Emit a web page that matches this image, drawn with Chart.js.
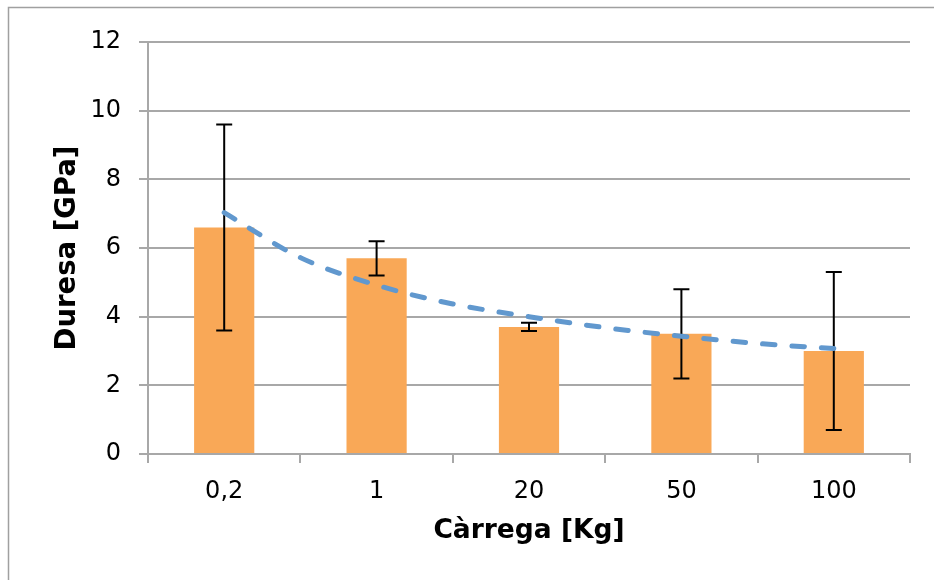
<!DOCTYPE html>
<html>
<head>
<meta charset="utf-8">
<script src="https://cdn.jsdelivr.net/npm/chart.js@4/dist/chart.umd.min.js"></script>
<style>
  html, body { margin: 0; padding: 0; background: #ffffff; }
  #wrap { width: 934px; height: 580px; }
</style>
</head>
<body>
<div id="wrap"><canvas id="c" width="934" height="580"></canvas></div>
<script>
// Load categories and measured hardness
const categories = ['0,2', '1', '20', '50', '100'];
const hardness = [6.6, 5.7, 3.7, 3.5, 3.0];
const hardnessError = [3.0, 0.5, 0.12, 1.3, 2.3];

// Power trend curve, sampled at half-category steps
const trendPositions = [0, 0.5, 1, 1.5, 2, 2.5, 3, 3.5, 4];
const trendValues = [7.03, 5.72, 4.92, 4.37, 4.0, 3.68, 3.43, 3.22, 3.07];

const yTicks = [0, 2, 4, 6, 8, 10, 12];

const GRID = '#A8A8A8';
const FONT = '"DejaVu Sans", Verdana, sans-serif';

// Chart frame: top and left edges
const framePlugin = {
  id: 'frame',
  beforeDraw(chart) {
    const ctx = chart.ctx;
    ctx.save();
    ctx.strokeStyle = '#A0A0A0';
    ctx.lineWidth = 1.5;
    ctx.beginPath();
    ctx.moveTo(8.5, chart.height + 2);
    ctx.lineTo(8.5, 7.5);
    ctx.lineTo(chart.width + 2, 7.5);
    ctx.stroke();
    ctx.restore();
  }
};

// Symmetric error bars on the bar dataset, drawn before the trend line
const errorBarPlugin = {
  id: 'errorBars',
  afterDatasetDraw(chart, args) {
    if (args.index !== 0) return;
    const ctx = chart.ctx;
    const y = chart.scales.y;
    const cap = 8;
    ctx.save();
    ctx.strokeStyle = '#000000';
    ctx.lineWidth = 2;
    args.meta.data.forEach((bar, i) => {
      const v = hardness[i];
      const e = hardnessError[i];
      const yTop = y.getPixelForValue(v + e);
      const yBot = y.getPixelForValue(v - e);
      const x = bar.x;
      ctx.beginPath();
      ctx.moveTo(x, yTop);
      ctx.lineTo(x, yBot);
      ctx.moveTo(x - cap, yTop);
      ctx.lineTo(x + cap, yTop);
      ctx.moveTo(x - cap, yBot);
      ctx.lineTo(x + cap, yBot);
      ctx.stroke();
    });
    ctx.restore();
  }
};

new Chart(document.getElementById('c'), {
  type: 'bar',
  data: {
    labels: categories,
    datasets: [
      {
        type: 'bar',
        label: 'Duresa',
        data: hardness,
        backgroundColor: '#F9A857',
        borderWidth: 0,
        grouped: false,
        barPercentage: 0.395,
        categoryPercentage: 1,
        xAxisID: 'x',
        yAxisID: 'y',
        order: 1
      },
      {
        type: 'line',
        label: 'Tendència',
        data: trendPositions.map((p, i) => ({ x: p, y: trendValues[i] })),
        xAxisID: 'xt',
        yAxisID: 'y',
        borderColor: '#6198CE',
        borderWidth: 5,
        borderDash: [12.5, 17],
        borderCapStyle: 'round',
        borderJoinStyle: 'round',
        cubicInterpolationMode: 'monotone',
        pointRadius: 0,
        fill: false,
        order: 0
      }
    ]
  },
  options: {
    responsive: false,
    animation: false,
    devicePixelRatio: 1,
    layout: { padding: { left: 0, top: 42, right: 24, bottom: 0 } },
    plugins: {
      legend: { display: false },
      tooltip: { enabled: false }
    },
    scales: {
      x: {
        type: 'category',
        position: 'bottom',
        afterFit(s) { s.height = 126; },
        grid: {
          offset: true,
          drawOnChartArea: false,
          drawTicks: true,
          tickLength: 9,
          color: GRID,
          lineWidth: 2
        },
        border: { color: GRID, width: 2 },
        ticks: {
          color: '#000000',
          padding: 14,
          font: { family: FONT, size: 24 },
          maxRotation: 0
        },
        title: {
          display: true,
          text: 'Càrrega [Kg]',
          color: '#000000',
          font: { family: FONT, size: 26.5, weight: 'bold', lineHeight: 1.2 },
          padding: { top: 0, bottom: 33 }
        }
      },
      // hidden linear axis aligned with the category slots, for the trend curve
      xt: {
        type: 'linear',
        position: 'bottom',
        display: false,
        offset: false,
        grid: { offset: false },
        min: -0.5,
        max: 4.5
      },
      y: {
        type: 'linear',
        position: 'left',
        min: 0,
        max: 12,
        afterFit(s) { s.width = 148; },
        afterBuildTicks(s) { s.ticks = yTicks.map(v => ({ value: v })); },
        grid: {
          drawTicks: true,
          tickLength: 9,
          color: GRID,
          lineWidth: 2
        },
        border: { color: GRID, width: 2 },
        ticks: {
          color: '#000000',
          padding: 18,
          font: { family: FONT, size: 24 }
        },
        title: {
          display: true,
          text: 'Duresa [GPa]',
          color: '#000000',
          font: { family: FONT, size: 27.5, weight: 'bold', lineHeight: 1.2 },
          padding: { top: 51, bottom: 0 }
        }
      }
    }
  },
  plugins: [framePlugin, errorBarPlugin]
});
</script>
</body>
</html>
